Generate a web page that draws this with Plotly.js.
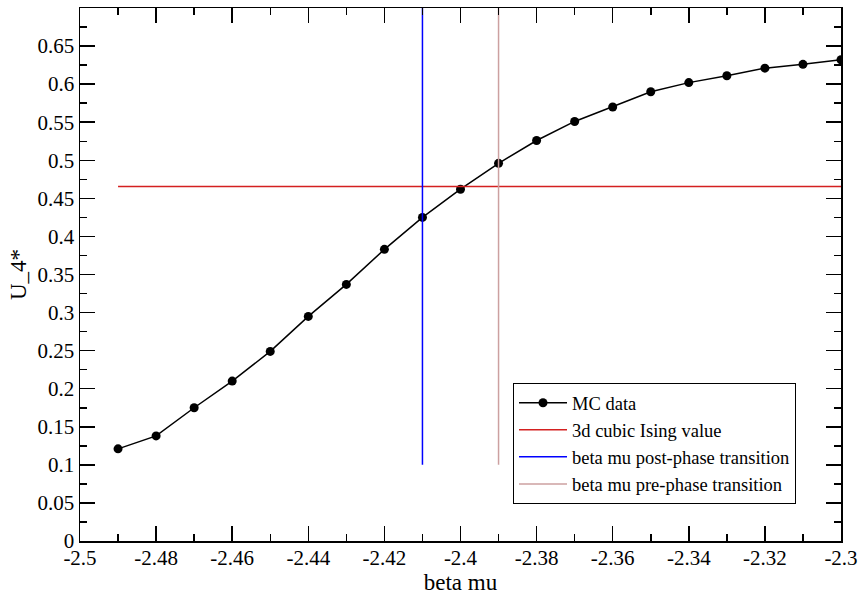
<!DOCTYPE html>
<html>
<head>
<meta charset="utf-8">
<script src="https://cdn.plot.ly/plotly-3.0.1.min.js"></script>
<style>html,body{margin:0;padding:0;background:#fff;}#chart{width:860px;height:595px;}</style>
</head>
<body>
<div id="chart"></div>
<script>
const betaMu = [-2.49, -2.48, -2.47, -2.46, -2.45, -2.44, -2.43, -2.42, -2.41, -2.40,
                -2.39, -2.38, -2.37, -2.36, -2.35, -2.34, -2.33, -2.32, -2.31, -2.30];
const u4 = [0.121, 0.138, 0.175, 0.210, 0.249, 0.295, 0.337, 0.383, 0.425, 0.462,
            0.496, 0.526, 0.551, 0.570, 0.590, 0.602, 0.611, 0.621, 0.626, 0.632];
const isingX = [-2.49, -2.30];
const isingY = [0.4655, 0.4655];
const postX = [-2.41, -2.41];
const postY = [0.1, 0.7];
const preX = [-2.39, -2.39];
const preY = [0.1, 0.7];
const xTickVals = [-2.5, -2.48, -2.46, -2.44, -2.42, -2.4, -2.38, -2.36, -2.34, -2.32, -2.3];
const xTickText = ['-2.5', '-2.48', '-2.46', '-2.44', '-2.42', '-2.4', '-2.38', '-2.36', '-2.34', '-2.32', '-2.3'];

const font = {family: '"Liberation Serif", "Times New Roman", serif', color: '#000'};

const traces = [
  {x: betaMu, y: u4, name: 'MC data', mode: 'lines+markers',
   line: {color: '#000', width: 1.5}, marker: {color: '#000', size: 9}},
  {x: isingX, y: isingY, name: '3d cubic Ising value', mode: 'lines',
   line: {color: '#d42020', width: 1.5}},
  {x: postX, y: postY, name: 'beta mu post-phase transition', mode: 'lines',
   line: {color: '#0000ff', width: 1.5}},
  {x: preX, y: preY, name: 'beta mu pre-phase transition', mode: 'lines',
   line: {color: '#cca0a0', width: 1.5}}
];

const axisCommon = {
  showgrid: false, zeroline: false, showline: true, linecolor: '#000', linewidth: 1.5,
  mirror: 'allticks', ticks: 'inside', ticklen: 15, tickwidth: 1.5, tickcolor: '#000',
  tickfont: Object.assign({size: 21}, font)
};

const layout = {
  width: 860, height: 595,
  margin: {l: 80, r: 19, t: 8, b: 54},
  paper_bgcolor: '#fff', plot_bgcolor: '#fff',
  font: Object.assign({size: 18}, font),
  showlegend: true,
  legend: {x: 0.569, y: 0.296, xanchor: 'left', yanchor: 'top',
           bgcolor: '#fff', bordercolor: '#000', borderwidth: 1,
           font: Object.assign({size: 18.5}, font), tracegroupgap: 0, itemwidth: 48},
  xaxis: Object.assign({}, axisCommon, {
    range: [-2.5, -2.3], tickmode: 'array', tickvals: xTickVals, ticktext: xTickText,
    ticklabelstandoff: -3,
    minor: {ticks: 'inside', ticklen: 7, tickwidth: 1.5, tickcolor: '#000', dtick: 0.01, tick0: -2.5, showgrid: false},
    title: {text: 'beta mu', font: Object.assign({size: 23}, font), standoff: 4}
  }),
  yaxis: Object.assign({}, axisCommon, {
    range: [0, 0.7], dtick: 0.05, tick0: 0,
    minor: {ticks: 'inside', ticklen: 7, tickwidth: 1.5, tickcolor: '#000', dtick: 0.025, showgrid: false},
    title: {text: 'U_4*', font: Object.assign({size: 23}, font), standoff: 4}
  })
};

Plotly.newPlot('chart', traces, layout, {displayModeBar: false, staticPlot: true});
</script>
</body>
</html>
